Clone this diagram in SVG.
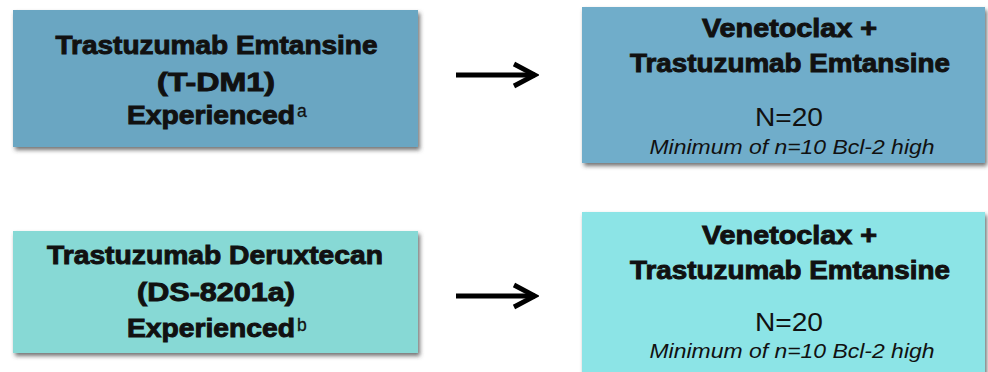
<svg xmlns="http://www.w3.org/2000/svg" width="988" height="372" viewBox="0 0 988 372">
  <style>
    .box { filter: url(#shadow); }
    .b { font-family: "Liberation Sans", Arial, sans-serif; font-weight: bold; font-size: 26.5px; fill: #111; stroke: #111; stroke-width: 0.95; text-anchor: middle; }
    .r { font-family: "Liberation Sans", Arial, sans-serif; font-size: 26.5px; fill: #111; text-anchor: middle; }
    .i { font-family: "Liberation Sans", Arial, sans-serif; font-style: italic; font-size: 21px; fill: #111; text-anchor: middle; }
    .sup { font-family: "Liberation Sans", Arial, sans-serif; font-size: 17.5px; fill: #111; stroke: #111; stroke-width: 0.3; }
    .conn { stroke: #000; stroke-width: 4.8; fill: none; marker-end: url(#arrow); }
  </style>
  <defs>
    <filter id="shadow" x="-5%" y="-10%" width="115%" height="130%">
      <feDropShadow dx="2" dy="3" stdDeviation="2" flood-color="#444" flood-opacity="0.75"/>
    </filter>
    <marker id="arrow" markerUnits="userSpaceOnUse" viewBox="0 0 28 28" markerWidth="28" markerHeight="28" refX="24" refY="14" orient="auto">
      <path d="M3,3 L24,14 L3,25" fill="none" stroke="#000" stroke-width="4.8"/>
    </marker>
  </defs>
  <rect width="988" height="372" fill="#fff"/>

  <g id="node-tdm1">
    <rect class="box" x="13" y="10" width="405" height="137" fill="#6aa6c2"/>
    <text class="b" x="216.5" y="54" textLength="322" lengthAdjust="spacingAndGlyphs">Trastuzumab Emtansine</text>
    <text class="b" x="216" y="91" textLength="118" lengthAdjust="spacingAndGlyphs">(T-DM1)</text>
    <text class="b" x="211" y="124" textLength="168" lengthAdjust="spacingAndGlyphs">Experienced</text>
    <text class="sup" x="297" y="117">a</text>
  </g>

  <g id="node-vt-top">
    <rect class="box" x="582" y="7" width="403" height="156" fill="#6fadca"/>
    <text class="b" x="789.5" y="37" textLength="175" lengthAdjust="spacingAndGlyphs">Venetoclax +</text>
    <text class="b" x="790" y="72" textLength="320" lengthAdjust="spacingAndGlyphs">Trastuzumab Emtansine</text>
    <text class="r" x="789" y="126" textLength="68" lengthAdjust="spacingAndGlyphs">N=20</text>
    <text class="i" x="792" y="154" textLength="285" lengthAdjust="spacingAndGlyphs">Minimum of n=10 Bcl-2 high</text>
  </g>

  <g id="node-ds8201a">
    <rect class="box" x="13" y="231" width="405" height="122" fill="#87d9d5"/>
    <text class="b" x="215" y="264" textLength="336" lengthAdjust="spacingAndGlyphs">Trastuzumab Deruxtecan</text>
    <text class="b" x="216" y="301" textLength="158" lengthAdjust="spacingAndGlyphs">(DS-8201a)</text>
    <text class="b" x="211" y="337" textLength="168" lengthAdjust="spacingAndGlyphs">Experienced</text>
    <text class="sup" x="297" y="331">b</text>
  </g>

  <g id="node-vt-bottom">
    <rect class="box" x="582" y="212" width="403" height="170" fill="#8ce4e6"/>
    <text class="b" x="789.5" y="244" textLength="175" lengthAdjust="spacingAndGlyphs">Venetoclax +</text>
    <text class="b" x="790" y="279" textLength="320" lengthAdjust="spacingAndGlyphs">Trastuzumab Emtansine</text>
    <text class="r" x="789" y="331" textLength="68" lengthAdjust="spacingAndGlyphs">N=20</text>
    <text class="i" x="792" y="358" textLength="285" lengthAdjust="spacingAndGlyphs">Minimum of n=10 Bcl-2 high</text>
  </g>

  <g id="connectors">
    <path class="conn" d="M456,75 L535,75"/>
    <path class="conn" d="M456,296 L535,296"/>
  </g>
</svg>
